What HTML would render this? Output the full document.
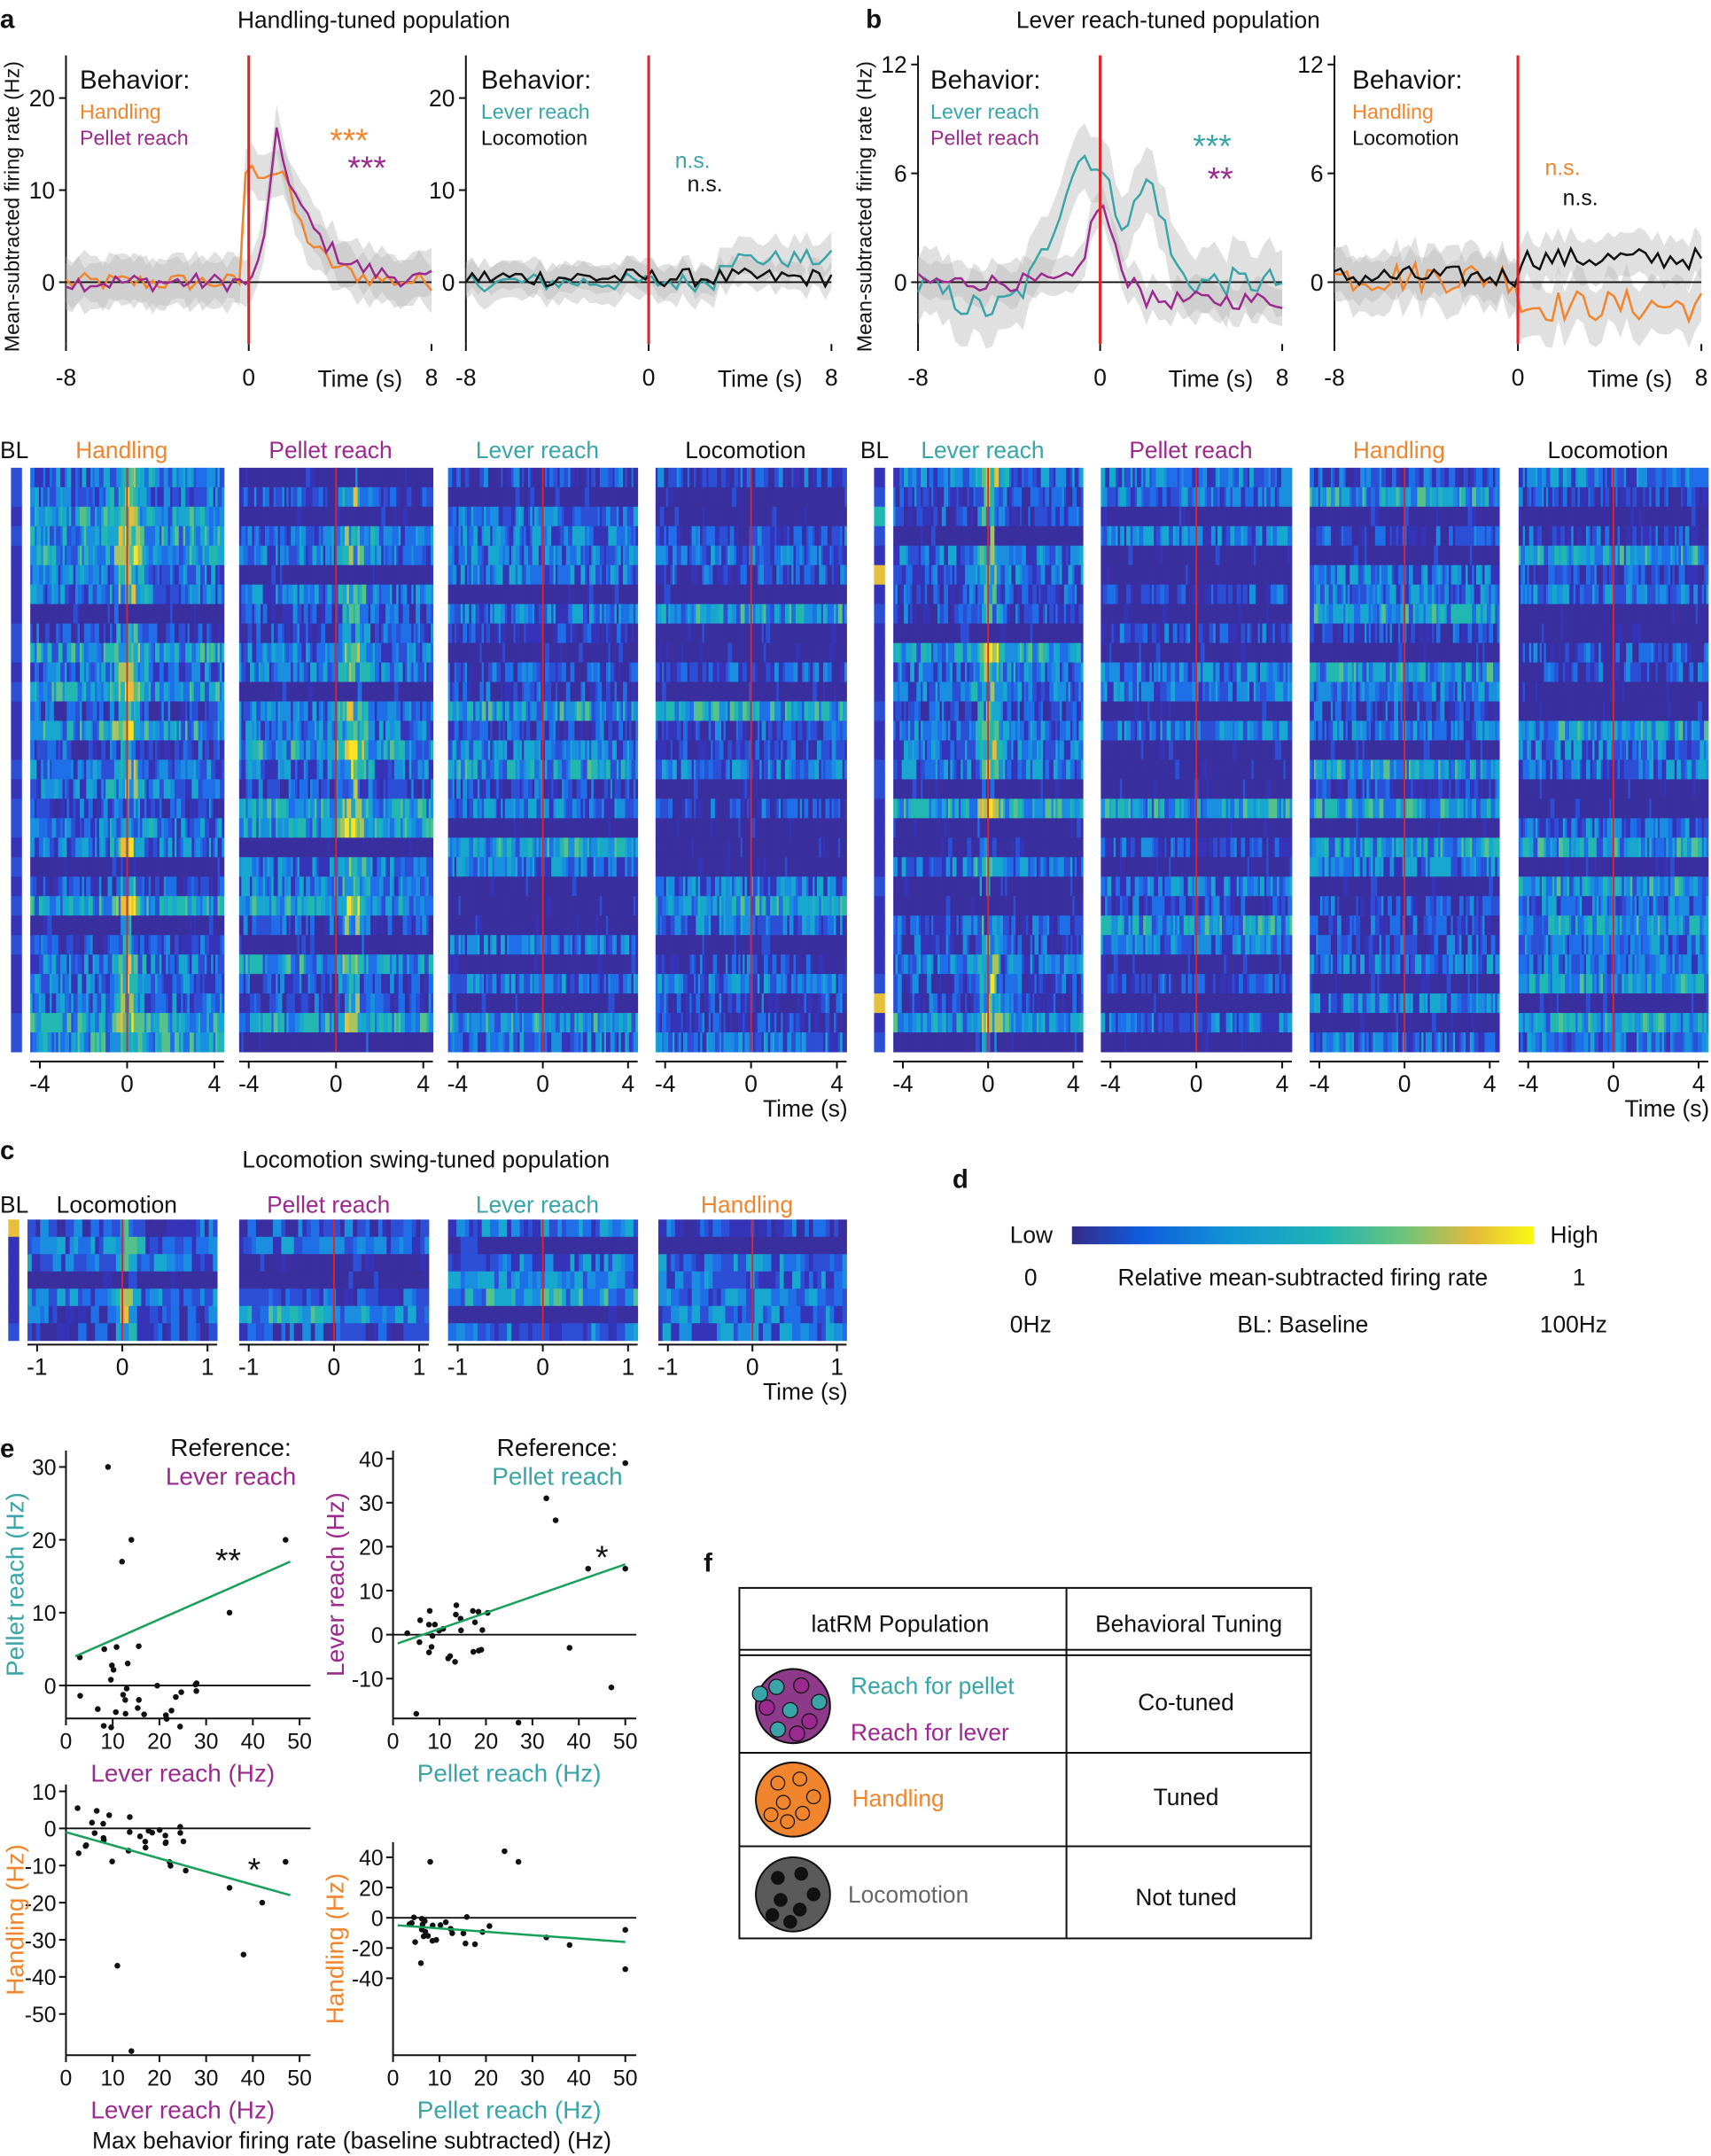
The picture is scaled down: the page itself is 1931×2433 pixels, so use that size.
<!DOCTYPE html>
<html><head><meta charset="utf-8">
<style>
html,body{margin:0;padding:0;background:#fff;}
svg{display:block;font-family:"Liberation Sans",Arial,sans-serif;}
</style></head>
<body>
<svg id="s" xmlns="http://www.w3.org/2000/svg" width="1931" height="2433" viewBox="0 0 1245 1568">
<defs>
<linearGradient id="cb" x1="0" x2="1" y1="0" y2="0">
<stop offset="0" stop-color="#352a87"/><stop offset="0.15" stop-color="#0f5cdd"/>
<stop offset="0.35" stop-color="#1296d4"/><stop offset="0.55" stop-color="#1fb4b4"/>
<stop offset="0.72" stop-color="#6cc57a"/><stop offset="0.87" stop-color="#e5b93a"/>
<stop offset="1" stop-color="#f9f915"/></linearGradient>
</defs>
<g id="g"></g>
</svg>
<script>
(function(){
var NS="http://www.w3.org/2000/svg",G=document.getElementById('g');
var seed=12345;function R(){seed=(seed*1103515245+12345)%2147483648;return seed/2147483648;}
function el(t,a,txt,p){var e=document.createElementNS(NS,t);for(var k in a)e.setAttribute(k,a[k]);if(txt!=null)e.textContent=txt;(p||G).appendChild(e);return e;}
function T(x,y,s,sz,col,anc,extra){var a={x:x,y:y,'font-size':sz||17,fill:col||'#111','text-anchor':anc||'start'};if(extra)for(var k in extra)a[k]=extra[k];return el('text',a,s);}
function L(x1,y1,x2,y2,c,w){return el('line',{x1:x1,y1:y1,x2:x2,y2:y2,stroke:c||'#111','stroke-width':w||1.3});}
var OR='#f0852d',PU='#9c2a8e',TE='#3aa5a8',RED='#e0242a';
T(0,20,'a',19,'#111','start',{'font-weight':'bold'});T(630,20,'b',19,'#111','start',{'font-weight':'bold'});
T(272,20,'Handling-tuned population',17,'#111','middle');T(850,20,'Lever reach-tuned population',17,'#111','middle');
function series(n,f,noise){var a=[];for(var i=0;i<n;i++){var t=-8+16*i/(n-1);a.push(f(t)+(R()-0.5)*noise);}return a;}
function lineplot(x0,x1,yz,sc,yt,ymin,ymax,ser,dummy,ytl){
 var xs=function(t){return x0+(t+8)/16*(x1-x0);};
 L(x0,ymin,x0,250);ytl.forEach(function(v){var y=yz-v*sc;L(x0-5,y,x0,y);T(x0-8,y+6,String(v),17,'#111','end');});
 [-8,0,8].forEach(function(v){L(xs(v),250,xs(v),255);T(xs(v),280,String(v),17,'#111','middle');});
 T(x1-52,281,'Time (s)',17,'#111','middle');
 ser.forEach(function(s){var n=s.d.length,up='';var b=s.band||2;for(var i=0;i<n;i++){var t=-8+16*i/(n-1);up+=(i?'L':'M')+xs(t)+','+(yz-(s.d[i]+b)*sc);}
  for(var i=n-1;i>=0;i--){var t=-8+16*i/(n-1);up+='L'+xs(t)+','+(yz-(s.d[i]-b)*sc);}
  el('path',{d:up+'Z',fill:'#bbbbbb','fill-opacity':0.45,stroke:'none'});});
 L(x0,yz,x1,yz,'#111',1.2);
 ser.forEach(function(s){var n=s.d.length,p='';for(var i=0;i<n;i++){var t=-8+16*i/(n-1);p+=(i?'L':'M')+xs(t).toFixed(1)+','+(yz-s.d[i]*sc).toFixed(1);}
  el('path',{d:p,fill:'none',stroke:s.c,'stroke-width':1.6});});
 L(xs(0),ymax,xs(0),250,RED,2);
}
function g(t,c,w){return Math.exp(-(t-c)*(t-c)/(2*w*w));}
lineplot(48,314,205,6.7,0,40,40,[
 {c:OR,d:series(60,function(t){return t<-0.3?0:(t<1.5?12:12*Math.exp(-(t-1.5)/1.2));},2),band:2.5},
 {c:PU,d:series(60,function(t){return t<0.2?0:16*Math.exp(-Math.abs(t-1.2)/1.6)*(t<1.2?(t-0.2):1);},2),band:2.5}],0,[0,10,20]);
lineplot(339,605,205,6.7,0,40,40,[
 {c:TE,d:series(60,function(t){return t<3?0:2.5;},2),band:2},
 {c:'#111',d:series(60,function(t){return 0.5;},2),band:1.5}],0,[0,10,20]);
lineplot(668,933,205,13.2,0,40,40,[
 {c:TE,d:series(60,function(t){return 7*g(t,-0.6,1.2)+5*g(t,2.2,0.6)-1.5*g(t,-5,1.5);},1.6),band:1.8},
 {c:PU,d:series(60,function(t){return 4.2*g(t,0,0.5)-(t>2?1:0);},1.0),band:1}],0,[0,6,12]);
lineplot(971,1238,205,13.2,0,40,40,[
 {c:OR,d:series(60,function(t){return t<0?0.3:-1.3;},1.8),band:1.5},
 {c:'#111',d:series(60,function(t){return t<0?0.3:1.3;},1.2),band:1.2}],0,[0,6,12]);
T(14,150,'Mean-subtracted firing rate (Hz)',15,'#111','middle',{transform:'rotate(-90 14 150)'});
T(634,150,'Mean-subtracted firing rate (Hz)',15,'#111','middle',{transform:'rotate(-90 634 150)'});
function leg(x,y,a){T(x,y,'Behavior:',19,'#111');a.forEach(function(s,i){T(x,y+22+i*19,s[0],15,s[1]);});}
leg(58,64,[['Handling',OR],['Pellet reach',PU]]);leg(350,64,[['Lever reach',TE],['Locomotion','#111']]);
leg(677,64,[['Lever reach',TE],['Pellet reach',PU]]);leg(984,64,[['Handling',OR],['Locomotion','#111']]);
T(254,110,'***',24,OR,'middle');T(267,130,'***',24,PU,'middle');
T(504,122,'n.s.',16,TE,'middle');T(513,139,'n.s.',16,'#111','middle');
T(882,114,'***',24,TE,'middle');T(888,138,'**',24,PU,'middle');
T(1137,127,'n.s.',16,OR,'middle');T(1150,149,'n.s.',16,'#111','middle');
var PAL=['#3a2f9e','#3534b8','#2c4fd6','#1f6fe8','#1b8fdf','#17a7cf','#22b7b0','#56c18a','#a7c45e','#e8bf3a','#f7e423'];
function heat(x,y,w,h,rows,cols,tuned,center){
 for(var r=0;r<rows;r++){var base=R();var lvl=base<0.25?0:(base<0.5?1.5:(base<0.8?3:4.5));var rh=h/rows;
  var c=0;while(c<cols){var len=1+Math.floor(R()*2);if(c+len>cols)len=cols-c;var v=lvl+(R()-0.5)*5;
   var t=(c-cols/2)/cols;if(tuned)v+=tuned*Math.exp(-Math.pow((t-center)/0.06,2))*(0.4+R()*0.8);
   if(lvl==0&&R()<0.8)v=0;v=Math.max(0,Math.min(10,Math.round(v)));
   el('rect',{x:(x+c*w/cols).toFixed(2),y:(y+r*rh).toFixed(2),width:(w/cols*len+0.3).toFixed(2),height:(rh+0.3).toFixed(2),fill:PAL[v]});c+=len;}}
 L(x+w/2,y,x+w/2,y+h,RED,1.2);
}
function bl(x,y,h,rows){for(var r=0;r<rows;r++){var v=R()<0.08?(R()<0.5?6:9):(R()<0.6?1:2);el('rect',{x:x,y:y+r*h/rows,width:8,height:h/rows+0.3,fill:PAL[v]});}}
function axis(x0,x1,y,labs,timelab){L(x0,y,x1,y);var c=(x0+x1)/2,hw=(x1-x0)/2-7;labs.forEach(function(v,i){var xx=c+(i-1)*hw;L(xx,y,xx,y+5);T(xx,y+22,v,17,'#111','middle');});if(timelab)T(x1-30,y+40,'Time (s)',17,'#111','middle');}
var TOPS=[[22,163,'Handling',OR,5,0.0],[174,315,'Pellet reach',PU,5,0.08],[326,464,'Lever reach',TE,0,0],[477,616,'Locomotion','#111',0,0],
 [650,788,'Lever reach',TE,5,0.0],[801,940,'Pellet reach',PU,0,0],[953,1091,'Handling',OR,0,0],[1105,1243,'Locomotion','#111',0,0]];
TOPS.forEach(function(p,i){heat(p[0],340,p[1]-p[0],425,30,90,p[4],p[5]);T((p[0]+p[1])/2-4,333,p[2],17,p[3],'middle');axis(p[0],p[1],772,['-4','0','4'],i==3||i==7);});
bl(8,340,425,30);bl(636,340,425,30);T(0,333,'BL',17,'#111');T(626,333,'BL',17,'#111');
T(0,843,'c',19,'#111','start',{'font-weight':'bold'});T(310,849,'Locomotion swing-tuned population',17,'#111','middle');
var cc=[[20,158,'Locomotion','#111',5],[174,312,'Pellet reach',PU,0],[326,464,'Lever reach',TE,0],[479,616,'Handling',OR,0]];
cc.forEach(function(p,i){heat(p[0],887,p[1]-p[0],88,7,45,p[4],0);T((p[0]+p[1])/2-4,882,p[2],17,p[3],'middle');axis(p[0],p[1],978,['-1','0','1'],i==3);});
bl(6,887,88,7);T(0,882,'BL',17,'#111');
T(693,864,'d',19,'#111','start',{'font-weight':'bold'});
el('rect',{x:780,y:892,width:336,height:13,fill:'url(#cb)'});
T(766,904,'Low',17,'#111','end');T(1128,904,'High',17,'#111');
T(750,935,'0',17,'#111','middle');T(948,935,'Relative mean-subtracted firing rate',17,'#111','middle');T(1149,935,'1',17,'#111','middle');
T(750,969,'0Hz',17,'#111','middle');T(948,969,'BL: Baseline',17,'#111','middle');T(1145,969,'100Hz',17,'#111','middle');
T(0,1060,'e',19,'#111','start',{'font-weight':'bold'});
function scat(x0,x1,yb,ytop,yv,yl,ylab,ycol,xlab,xcol,fit,pts,star,sx,sy,ref,lx){
 var xs=function(v){return x0+v/50*(x1-x0);};
 var ys=function(v){return yv[0]+(v-yl[0])*(yv[1]-yv[0])/(yl[1]-yl[0]);};
 L(x0,ytop,x0,yb);L(x0,yb,x1+8,yb);
 [0,10,20,30,40,50].forEach(function(v){L(xs(v),yb,xs(v),yb+5);T(xs(v),yb+22,String(v),16,'#111','middle');});
 ylab.forEach(function(v){L(x0-5,ys(v),x0,ys(v));T(x0-7,ys(v)+6,String(v),16,'#111','end');});
 L(x0,ys(0),x1+8,ys(0),'#111',1.2);
 pts.forEach(function(p){el('circle',{cx:xs(p[0]),cy:ys(p[1]),r:2.1,fill:'#111'});});
 L(xs(fit[0]),ys(fit[1]),xs(fit[2]),ys(fit[3]),'#17a05a',1.6);
 if(star)T(sx,sy,star,24,'#111','middle');
 T((x0+x1)/2,yb+46,xlab,18,xcol,'middle');
 var cy=(ytop+yb)/2;T(lx,cy,ycol[0],18,ycol[1],'middle',{transform:'rotate(-90 '+lx+' '+cy+')'});
 if(ref){T((x0+x1)/2+35,ytop+4,'Reference:',18,'#111','middle');T((x0+x1)/2+35,ytop+25,ref[0],18,ref[1],'middle');}
}
function rp(n,xr,yf,ns){var a=[];for(var i=0;i<n;i++){var x=xr[0]+R()*(xr[1]-xr[0]);a.push([x,yf(x)+(R()-0.5)*ns]);}return a;}
var p1=rp(30,[2,28],function(x){return 0;},12).concat([[9,30],[14,20],[12,17],[35,10],[47,20]]);
scat(48,218,1250,1055,[1226,1067],[0,30],[0,10,20,30],['Pellet reach (Hz)',TE],'Lever reach (Hz)',PU,[2,4,48,17],p1,'**',166,1143,['Lever reach',PU],17);
var p2=rp(26,[2,22],function(x){return 0;},14).concat([[33,31],[35,26],[42,15],[50,39],[50,15],[47,-12],[38,-3],[5,-18],[27,-20]]);
scat(286,455,1250,1055,[1189,1061],[0,40],[-10,0,10,20,30,40],['Lever reach (Hz)',PU],'Pellet reach (Hz)',TE,[1,-2,50,16],p2,'*',438,1141,['Pellet reach',TE],250);
var p3=rp(30,[2,27],function(x){return -x/4;},14).concat([[11,-37],[38,-34],[14,-60],[35,-16],[42,-20],[47,-9]]);
scat(48,218,1495,1298,[1330,1303],[0,10],[10,0,-10,-20,-30,-40,-50],['Handling (Hz)',OR],'Lever reach (Hz)',PU,[0,-1,48,-18],p3,'*',185,1368,null,17);
var p4=rp(24,[2,22],function(x){return -8;},20).concat([[8,37],[24,44],[27,37],[33,-13],[38,-18],[50,-34],[50,-8],[6,-30]]);
scat(286,455,1495,1340,[1395,1351],[0,40],[40,20,0,-20,-40],['Handling (Hz)',OR],'Pellet reach (Hz)',TE,[1,-5,50,-16],p4,'',0,0,null,250);
T(256,1563,'Max behavior firing rate (baseline subtracted) (Hz)',17,'#111','middle');
T(512,1143,'f',19,'#111','start',{'font-weight':'bold'});
el('rect',{x:538,y:1155,width:416,height:255,fill:'none',stroke:'#111','stroke-width':1.3});
L(776,1155,776,1410);L(538,1200,954,1200);L(538,1204,954,1204);L(538,1275,954,1275);L(538,1343,954,1343);
T(655,1187,'latRM Population',17,'#111','middle');T(865,1187,'Behavioral Tuning',17,'#111','middle');
T(863,1244,'Co-tuned',17,'#111','middle');T(863,1313,'Tuned',17,'#111','middle');T(863,1386,'Not tuned',17,'#111','middle');
T(619,1232,'Reach for pellet',17,TE);T(619,1266,'Reach for lever',17,PU);T(620,1314,'Handling',17,OR);T(617,1384,'Locomotion',17,'#666');
el('circle',{cx:577,cy:1241,r:27,fill:'#8e3a8a',stroke:'#111','stroke-width':1.3});
[[565,1227,TE],[583,1226,PU],[596,1238,TE],[558,1242,PU],[575,1244,TE],[589,1252,PU],[566,1258,TE],[580,1261,PU],[553,1232,TE]].forEach(function(c){el('circle',{cx:c[0],cy:c[1],r:5.5,fill:c[2],stroke:'#111','stroke-width':0.8});});
el('circle',{cx:577,cy:1309,r:27,fill:OR,stroke:'#111','stroke-width':1.3});
[[566,1297],[582,1294],[592,1307],[570,1311],[584,1319],[561,1320],[573,1325]].forEach(function(c){el('circle',{cx:c[0],cy:c[1],r:5,fill:OR,stroke:'#111','stroke-width':0.8});});
el('circle',{cx:577,cy:1378,r:27,fill:'#5a5a5a',stroke:'#111','stroke-width':1.3});
[[566,1366],[583,1363],[592,1378],[568,1382],[582,1389],[562,1393],[575,1398]].forEach(function(c){el('circle',{cx:c[0],cy:c[1],r:5,fill:'#111'});});
})();
</script>
</body></html>
